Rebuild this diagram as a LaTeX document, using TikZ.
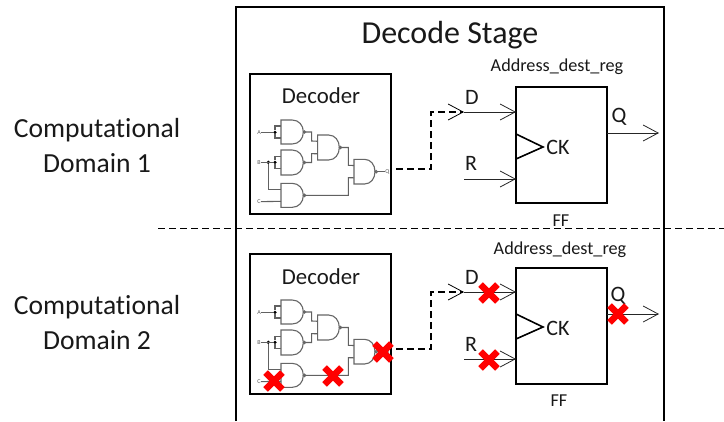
\documentclass[tikz,border=0pt]{standalone}
\usepackage{fontspec}
\setmainfont[Ligatures={NoCommon,NoContextual}]{Carlito}
\usetikzlibrary{arrows.meta,shapes.misc}
\newcommand{\fs}[1]{\fontsize{#1}{#1}\selectfont}
\newcommand{\gategly}[5]{%
  \pgfmathsetmacro{\gxm}{#2+0.5*(#4-#2)}
  \pgfmathsetmacro{\gym}{(#3+#5)/2}
  \pgfmathsetmacro{\gca}{#2+0.8*(#4-#2)}
  \pgfmathsetmacro{\gcb}{#3+0.22*(#5-#3)}
  \pgfmathsetmacro{\gcc}{#5-0.22*(#5-#3)}
  \pgfmathsetmacro{\gya}{#3+0.25*(#5-#3)}
  \pgfmathsetmacro{\gyb}{#3+0.75*(#5-#3)}
  \pgfmathsetmacro{\gxo}{#4+7}
  \draw[gatepath] (#2,#3) -- (\gxm,#3) .. controls (\gca,#3) and (#4,\gcb) .. (#4,\gym)
     .. controls (#4,\gcc) and (\gca,#5) .. (\gxm,#5) -- (#2,#5) -- cycle;
  \draw[gatepath] (#4+3.5,\gym) circle[radius=3.5];
  \coordinate (#1-in1) at (#2,\gya);
  \coordinate (#1-in2) at (#2,\gyb);
  \coordinate (#1-out) at (\gxo,\gym);
}
\tikzset{
  heavy/.style={draw=black,line width=2pt},
  thinline/.style={draw=black!85,line width=0.8pt},
  sig/.style={thinline,-{Straight Barb[length=15pt,width=16pt,line width=0.8pt]}},
  dsig/.style={sig,dash pattern=on 7pt off 4pt,line width=1.1pt,draw=black},
  gatepath/.style={draw=black!60,line width=1.1pt},
  wire/.style={draw=black!62,line width=1.1pt},
  tiny/.style={text=black!65,font=\fs{6},inner sep=0pt},
  dotnode/.style={circle,fill=black,inner sep=0pt,minimum size=3.6pt},
  lbl/.style={inner sep=0pt,text=black!90},
  mainl/.style={lbl,font=\fs{27.6}},
  sigl/.style={lbl,font=\fs{22}},
  small/.style={lbl,font=\fs{18.2}},
  bad/.style={cross out,draw=red,line width=6.4pt,minimum size=10.5pt,inner sep=0pt,line cap=butt},
  ffbox/.style={heavy,fill=white,minimum width=91pt,minimum height=116pt,inner sep=0pt,outer sep=0pt},
  decbox/.style={heavy,fill=white,minimum width=141pt,minimum height=140pt,inner sep=0pt,outer sep=0pt},
}
\newcommand{\logic}{%
  \gategly{g1}{93}{135}{160}{207}
  \gategly{g2}{93}{225}{160}{300}
  \gategly{g3}{93}{325}{160}{397}
  \gategly{g4}{203}{180}{268}{255}
  \gategly{g5}{312}{253}{375}{327}
  \node[tiny] (A) at (27,172) {A};
  \node[tiny] (B) at (27,262) {B};
  \node[tiny] (C) at (27,380) {C};
  \node[tiny] (Q) at (412,290) {Q};
  \node[dotnode] (da) at (75,172) {};
  \node[dotnode] (db) at (75,262) {};
  \node[dotnode] (dc) at (55,262) {};
  \draw[wire] (A) -- (da);
  \draw[wire] (B) -- (db);
  \draw[wire] (da) |- (g1-in1);
  \draw[wire] (da) |- (g1-in2);
  \draw[wire] (db) |- (g2-in1);
  \draw[wire] (db) |- (g2-in2);
  \draw[wire] (dc) |- (g3-in1);
  \draw[wire] (C) -- (g3-in2);
  \draw[wire] (g1-out) -| (185,198) -- (g4-in1);
  \draw[wire] (g2-out) -| (185,236) -- (g4-in2);
  \draw[wire] (g4-out) -| (295,271) -- (g5-in1);
  \draw[wire] (g3-out) -| (295,308) -- (g5-in2);
  \draw[wire] (g5-out) -- (Q);
}
\begin{document}
\begin{tikzpicture}[x=1pt,y=-1pt]
\useasboundingbox (0,0) rectangle (724,421);
\coordinate (ol) at (236,421);
\coordinate (otl) at (236,7);
\coordinate (otr) at (664,7);
\coordinate (or) at (664,421);
\draw[heavy] (ol) -- (otl) -- (otr) -- (or);
\coordinate (sa) at (158,228);
\coordinate (sb) at (724,228);
\draw[black,line width=1pt,dash pattern=on 7pt off 4pt] (sa) -- (sb);

\node[mainl,font=\fs{32}] (title) at (450,35) {Decode Stage};
\node[mainl] (c1) at (97,130) {Computational};
\node[mainl] (d1) at (97,163) {Domain 1};
\node[mainl] (c2) at (97,307) {Computational};
\node[mainl] (d2) at (97,340) {Domain 2};

% decoders
\node[decbox] (dec1) at (320.5,144) {};
\node[decbox] (dec2) at (320.5,324) {};
\node[sigl,font=\fs{22.8}] (dl1) at (321,96) {Decoder};
\node[sigl,font=\fs{22.8}] (dl2) at (321,277) {Decoder};
\begin{scope}[shift={(250pt,-75pt)},x=0.33333pt,y=-0.33333pt,name prefix=a-]
\logic
\end{scope}
\begin{scope}[shift={(250pt,-255pt)},x=0.33333pt,y=-0.33333pt,name prefix=b-]
\logic
\end{scope}

% flip-flops
\node[ffbox] (ff1) at (561.5,145) {};
\node[ffbox] (ff2) at (561.5,325.5) {};
\foreach \p/\ya/\yb/\yc in {ff1/134/147/159,ff2/314/327/339}{
  \draw[black,line width=1.6pt] (516,\ya) -- (543,\yb) -- (516,\yc);
}
\node[sigl] (ck1) at (558,147) {CK};
\node[sigl] (ck2) at (558,328) {CK};
\node[small] (ad1) at (557,67) {Address\_dest\_reg};
\node[small] (ad2) at (560,250) {Address\_dest\_reg};
\node[small] (fl1) at (561,221) {FF};
\node[small] (fl2) at (559,401) {FF};
\node[sigl] (D1) at (472,97) {D};
\node[sigl] (R1) at (471,163) {R};
\node[sigl] (Q1) at (619,117) {Q};
\node[sigl] (D2) at (472,277) {D};
\node[sigl] (R2) at (471,344) {R};
\node[sigl] (Q2) at (618,296) {Q};

\coordinate (di1) at (516,112);
\coordinate (ri1) at (516,179);
\coordinate (qo1) at (607,133);
\coordinate (di2) at (516,292);
\coordinate (ri2) at (516,359);
\coordinate (qo2) at (607,314);
\coordinate (j1) at (464,112);
\coordinate (r1) at (464,179);
\coordinate (e1) at (659,133);
\coordinate (j2) at (464,292);
\coordinate (r2) at (464,359);
\coordinate (e2) at (659,314);
\coordinate (s1) at (396,169);
\coordinate (s2) at (396,349);
\coordinate (v1) at (431,169);
\coordinate (v2) at (431,349);
\draw[dsig] (s1) -- (v1) -- (431,112) -- (j1);
\draw[dsig] (s2) -- (v2) -- (431,292) -- (j2);
\draw[sig] (j1) -- (di1);
\draw[sig] (r1) -- (ri1);
\draw[sig] (qo1) -- (e1);
\draw[sig] (j2) -- (di2);
\draw[sig] (r2) -- (ri2);
\draw[sig] (qo2) -- (e2);

% faults
\node[bad] (x1) at (489,293) {};
\node[bad] (x2) at (489,360) {};
\node[bad] (x3) at (618,314) {};
\node[bad] (x4) at (274,381) {};
\node[bad] (x5) at (333,376) {};
\node[bad] (x6) at (383,352) {};
\end{tikzpicture}
\end{document}
